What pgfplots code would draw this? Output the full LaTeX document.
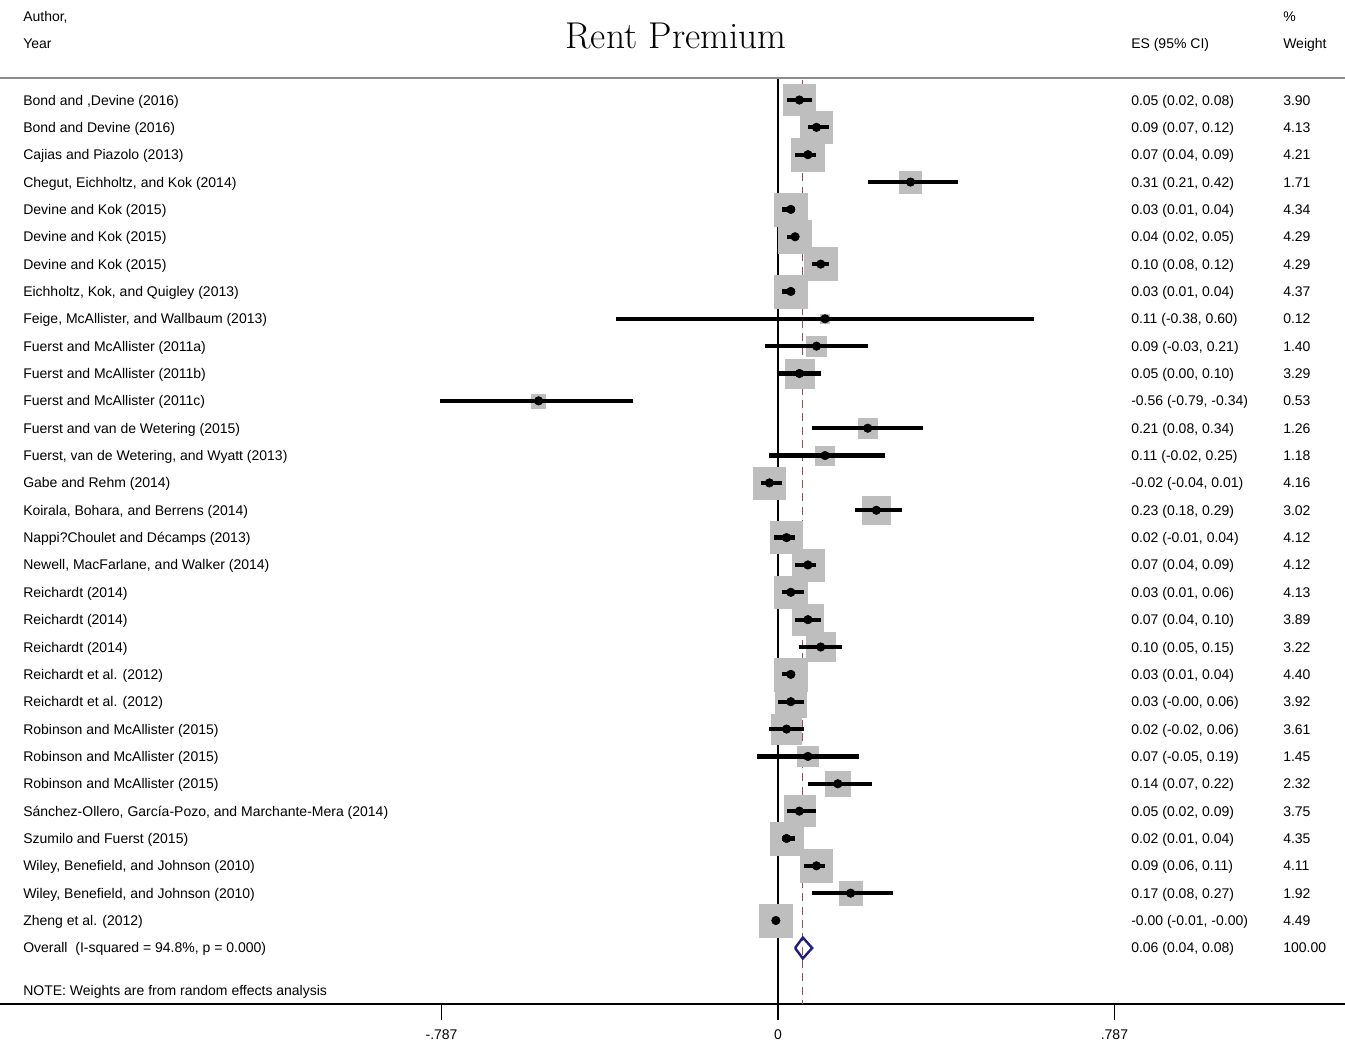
\documentclass[border=0pt]{standalone}
\usepackage{fontspec}
\setsansfont{Liberation Sans}
\usepackage{pgfplots}
\pgfplotsset{compat=1.18}
\usepackage{pgfplotstable}
\definecolor{boxgray}{RGB}{190,190,190}
\definecolor{navy}{RGB}{30,30,120}
\definecolor{dashred}{RGB}{150,80,90}
\newcommand\tf{\sffamily\fontsize{10.5}{12}\selectfont}

\pgfplotstableread{
i es lo hi w
1 0.05 0.02 0.08 3.90
2 0.09 0.07 0.12 4.13
3 0.07 0.04 0.09 4.21
4 0.31 0.21 0.42 1.71
5 0.03 0.01 0.04 4.34
6 0.04 0.02 0.05 4.29
7 0.10 0.08 0.12 4.29
8 0.03 0.01 0.04 4.37
9 0.11 -0.38 0.60 0.12
10 0.09 -0.03 0.21 1.40
11 0.05 0.00 0.10 3.29
12 -0.56 -0.79 -0.34 0.53
13 0.21 0.08 0.34 1.26
14 0.11 -0.02 0.25 1.18
15 -0.02 -0.04 0.01 4.16
16 0.23 0.18 0.29 3.02
17 0.02 -0.01 0.04 4.12
18 0.07 0.04 0.09 4.12
19 0.03 0.01 0.06 4.13
20 0.07 0.04 0.10 3.89
21 0.10 0.05 0.15 3.22
22 0.03 0.01 0.04 4.40
23 0.03 -0.00 0.06 3.92
24 0.02 -0.02 0.06 3.61
25 0.07 -0.05 0.19 1.45
26 0.14 0.07 0.22 2.32
27 0.05 0.02 0.09 3.75
28 0.02 0.01 0.04 4.35
29 0.09 0.06 0.11 4.11
30 0.17 0.08 0.27 1.92
31 -0.005 -0.012 -0.001 4.49
}\studies

\begin{document}
\begin{tikzpicture}[x=0.75pt,y=-0.75pt]
\path[use as bounding box] (0,0) rectangle (1345,1043);
\begin{axis}[
  at={(0pt,-753pt)}, anchor=south west,
  scale only axis, width=1008.75pt, height=694.5pt,
  xmin=-1.8199, xmax=1.3263, ymin=-1004, ymax=-78,
  axis x line*=bottom, axis y line=none,
  axis line style={line width=0.9pt},
  xtick={-0.787,0,0.787}, xticklabels={{-.787},{0},{.787}},
  tick align=outside, major tick length=12pt,
  tick style={black, line width=0.9pt},
  x tick label style={font=\tf, yshift=-3.5pt},
  clip=false, clip marker paths=true,
]
% reference lines
\addplot[black, line width=1pt] coordinates {(0,-78) (0,-1004)};
\addplot[dashred, line width=0.8pt, dash pattern=on 6pt off 4pt] coordinates {(0.058,-80) (0.058,-1004)};
% weight boxes
\addplot[scatter, only marks, mark=square*,
  scatter/use mapped color={draw=boxgray, fill=boxgray},
  visualization depends on={1.5+5.2*sqrt(\thisrow{w}) \as \boxsize},
  scatter/@pre marker code/.append style={/tikz/mark size=\boxsize}]
  table[x=es, y expr={-(100+(\thisrow{i}-1)*27.35)}] {\studies};
% CIs and point estimates
\addplot[only marks, mark=*, mark size=3.2pt, black,
  error bars/.cd, x dir=both, x explicit, error mark=none,
  error bar style={line width=3.2pt, black}]
  table[x=es, y expr={-(100+(\thisrow{i}-1)*27.35)},
        x error minus expr={\thisrow{es}-\thisrow{lo}},
        x error plus expr={\thisrow{hi}-\thisrow{es}}] {\studies};
% overall diamond
\addplot[navy, line width=1.8pt, line join=miter] coordinates {(0.04,-948) (0.058,-937.5) (0.08,-948) (0.058,-958.5) (0.04,-948)};
\end{axis}
% separator line
\draw[black!45, line width=0.8pt] (0,78) -- (1345,78);
% headers
\node[anchor=base west, inner sep=0, font=\tf] at (23,21) {Author,};
\node[anchor=base west, inner sep=0, font=\tf] at (23,48) {Year};
\node[anchor=base west, inner sep=0, font=\tf] at (1131,48) {ES (95\% CI)};
\node[anchor=base west, inner sep=0, font=\tf] at (1283,21) {\%};
\node[anchor=base west, inner sep=0, font=\tf] at (1283,48) {Weight};
\node[anchor=base, inner sep=0, font=\fontsize{28}{32}\selectfont] at (676,48) {Rent Premium};
\node[anchor=base west, inner sep=0, font=\tf] at (23,995) {NOTE: Weights are from random effects analysis};
% row texts
\foreach \i/\lab/\es/\wt in {
1/{Bond and ,Devine (2016)}/{0.05 (0.02, 0.08)}/3.90,
2/{Bond and Devine (2016)}/{0.09 (0.07, 0.12)}/4.13,
3/{Cajias and Piazolo (2013)}/{0.07 (0.04, 0.09)}/4.21,
4/{Chegut, Eichholtz, and Kok (2014)}/{0.31 (0.21, 0.42)}/1.71,
5/{Devine and Kok (2015)}/{0.03 (0.01, 0.04)}/4.34,
6/{Devine and Kok (2015)}/{0.04 (0.02, 0.05)}/4.29,
7/{Devine and Kok (2015)}/{0.10 (0.08, 0.12)}/4.29,
8/{Eichholtz, Kok, and Quigley (2013)}/{0.03 (0.01, 0.04)}/4.37,
9/{Feige, McAllister, and Wallbaum (2013)}/{0.11 (-0.38, 0.60)}/0.12,
10/{Fuerst and McAllister (2011a)}/{0.09 (-0.03, 0.21)}/1.40,
11/{Fuerst and McAllister (2011b)}/{0.05 (0.00, 0.10)}/3.29,
12/{Fuerst and McAllister (2011c)}/{-0.56 (-0.79, -0.34)}/0.53,
13/{Fuerst and van de Wetering (2015)}/{0.21 (0.08, 0.34)}/1.26,
14/{Fuerst, van de Wetering, and Wyatt (2013)}/{0.11 (-0.02, 0.25)}/1.18,
15/{Gabe and Rehm (2014)}/{-0.02 (-0.04, 0.01)}/4.16,
16/{Koirala, Bohara, and Berrens (2014)}/{0.23 (0.18, 0.29)}/3.02,
17/{Nappi?Choulet and Décamps (2013)}/{0.02 (-0.01, 0.04)}/4.12,
18/{Newell, MacFarlane, and Walker (2014)}/{0.07 (0.04, 0.09)}/4.12,
19/{Reichardt (2014)}/{0.03 (0.01, 0.06)}/4.13,
20/{Reichardt (2014)}/{0.07 (0.04, 0.10)}/3.89,
21/{Reichardt (2014)}/{0.10 (0.05, 0.15)}/3.22,
22/{Reichardt et al. (2012)}/{0.03 (0.01, 0.04)}/4.40,
23/{Reichardt et al. (2012)}/{0.03 (-0.00, 0.06)}/3.92,
24/{Robinson and McAllister (2015)}/{0.02 (-0.02, 0.06)}/3.61,
25/{Robinson and McAllister (2015)}/{0.07 (-0.05, 0.19)}/1.45,
26/{Robinson and McAllister (2015)}/{0.14 (0.07, 0.22)}/2.32,
27/{Sánchez-Ollero, García-Pozo, and Marchante-Mera (2014)}/{0.05 (0.02, 0.09)}/3.75,
28/{Szumilo and Fuerst (2015)}/{0.02 (0.01, 0.04)}/4.35,
29/{Wiley, Benefield, and Johnson (2010)}/{0.09 (0.06, 0.11)}/4.11,
30/{Wiley, Benefield, and Johnson (2010)}/{0.17 (0.08, 0.27)}/1.92,
31/{Zheng et al. (2012)}/{-0.00 (-0.01, -0.00)}/4.49,
32/{Overall\ \ (I-squared = 94.8\%, p = 0.000)}/{0.06 (0.04, 0.08)}/100.00}
{
  \node[anchor=base west, inner sep=0, font=\tf] at (23,{105+(\i-1)*27.35}) {\lab};
  \node[anchor=base west, inner sep=0, font=\tf] at (1131,{105+(\i-1)*27.35}) {\es};
  \node[anchor=base west, inner sep=0, font=\tf] at (1283,{105+(\i-1)*27.35}) {\wt};
}
\end{tikzpicture}
\end{document}
